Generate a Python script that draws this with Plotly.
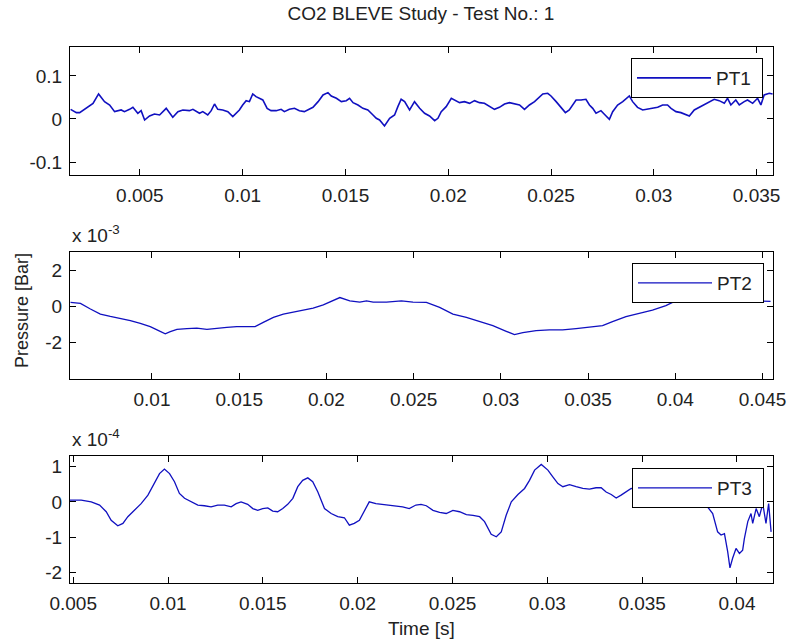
import plotly.graph_objects as go

# ---------------- data ----------------
# PT1: time [s] and pressure [Bar]
t1 = [0.00163, 0.00191, 0.00207, 0.00247, 0.00272, 0.00299, 0.00328, 0.00353, 0.00377, 0.00409,
      0.00425, 0.0045, 0.00466, 0.0049, 0.00506, 0.00523, 0.00547, 0.00571, 0.00596, 0.00628,
      0.00644, 0.0066, 0.00685, 0.00709, 0.00741, 0.00758, 0.0079, 0.00806, 0.0083, 0.00847,
      0.00863, 0.00879, 0.00903, 0.00928, 0.00952, 0.00968, 0.00984, 0.0100, 0.01017, 0.01033,
      0.01049, 0.01065, 0.01082, 0.01098, 0.01119, 0.01138, 0.01163, 0.01187, 0.01203, 0.01227,
      0.01252, 0.01276, 0.0130,
      0.01318, 0.01342, 0.01367, 0.01391, 0.01415, 0.01431, 0.01456, 0.0148, 0.01504, 0.0152,
      0.01537, 0.01561, 0.01585, 0.01609, 0.01634, 0.0165, 0.01666, 0.0169, 0.01715, 0.01739,
      0.01755, 0.01771, 0.01788, 0.01812, 0.01836, 0.01861, 0.01885, 0.01909, 0.01934, 0.0195,
      0.01966, 0.0199, 0.02015, 0.02031, 0.02055, 0.02079, 0.02104, 0.02128, 0.02152, 0.02176,
      0.02201, 0.02225, 0.02249, 0.02274, 0.02298, 0.02322, 0.02347, 0.02371, 0.02395, 0.0242,
      0.02444, 0.0246, 0.02484, 0.025, 0.02525, 0.02549, 0.0257, 0.02589, 0.02606, 0.02622,
      0.02646, 0.0267, 0.02687, 0.02703, 0.02719, 0.02743, 0.02768, 0.02784, 0.028, 0.02824,
      0.02849, 0.02868, 0.02881, 0.02897, 0.02921, 0.02946, 0.0297, 0.02994, 0.03019, 0.03043,
      0.03067, 0.03084, 0.03108, 0.03132, 0.03156, 0.03173, 0.03197, 0.03221, 0.03246, 0.0327,
      0.03294, 0.03318, 0.03343, 0.03359, 0.03375, 0.03399, 0.03416, 0.0344, 0.03456, 0.03481,
      0.03505, 0.03521, 0.03537, 0.03562, 0.03578]
p1 = [0.0224, 0.0147, 0.0147, 0.0286, 0.0363, 0.0581, 0.0402, 0.0325, 0.0170, 0.0209,
      0.0170, 0.0224, 0.0270, 0.0132, 0.0193, -0.0024, 0.0069, 0.0116, 0.0093, 0.0247,
      0.0132, 0.0038, 0.0170, 0.0209, 0.0193, 0.0224, 0.0132, 0.0170, 0.0093, 0.0193,
      0.0348, 0.0224, 0.0209, 0.0170, 0.0054, 0.0132, 0.0209, 0.0325, 0.0425, 0.0402,
      0.0581, 0.0519, 0.0480, 0.0441, 0.0247, 0.0193, 0.0193, 0.0224, 0.0170, 0.0224,
      0.0247, 0.0193, 0.0170,
      0.0209, 0.0270, 0.0402, 0.0557, 0.0612, 0.0534, 0.0480, 0.0402, 0.0425, 0.0480,
      0.0379, 0.0325, 0.0247, 0.0209, 0.0093, 0.0015, -0.0024, -0.0163, 0.0015, 0.0093,
      0.0286, 0.0457, 0.0402, 0.0209, 0.0402, 0.0247, 0.0132, 0.0069, -0.0039, 0.0015,
      0.0170, 0.0286, 0.0480, 0.0441, 0.0379, 0.0402, 0.0363, 0.0425, 0.0379, 0.0363,
      0.0302, 0.0224, 0.0270, 0.0348, 0.0379, 0.0348, 0.0325, 0.0224, 0.0325, 0.0402,
      0.0519, 0.0581, 0.0596, 0.0534, 0.0402, 0.0270, 0.0147, 0.0209, 0.0325, 0.0441,
      0.0441, 0.0457, 0.0325, 0.0247, 0.0132, 0.0193, 0.0069, -0.0008, 0.0170, 0.0325,
      0.0402, 0.0480, 0.0534, 0.0402, 0.0270, 0.0209, 0.0224, 0.0247, 0.0270, 0.0325,
      0.0325, 0.0247, 0.0170, 0.0147, 0.0093, 0.0069, 0.0209, 0.0270, 0.0348, 0.0402,
      0.0457, 0.0425, 0.0363, 0.0480, 0.0325, 0.0441, 0.0325, 0.0402, 0.0441, 0.0363,
      0.0480, 0.0325, 0.0557, 0.0596, 0.0581]

# PT2: time [s] and pressure in units of 1e-3 Bar
t2 = [0.00533, 0.0059, 0.00647, 0.00704, 0.00761, 0.00819, 0.00876, 0.00933, 0.0099, 0.01038,
      0.01076, 0.01105, 0.01143, 0.012, 0.01257, 0.01315, 0.01372, 0.01429, 0.01486, 0.01543,
      0.01591, 0.01638, 0.01696, 0.01753, 0.0181, 0.01867, 0.01924, 0.01982, 0.02039, 0.02077,
      0.02134, 0.02191, 0.0223, 0.02268, 0.02344,
      0.0243, 0.02496, 0.02573, 0.02649, 0.02725, 0.02802, 0.02878, 0.02954, 0.03031, 0.03078,
      0.03126, 0.03202, 0.03278, 0.03354, 0.03431, 0.03507, 0.03583, 0.0364, 0.03717, 0.03793,
      0.03869, 0.03946, 0.03993, 0.04079, 0.04269, 0.04461, 0.04546]
p2_e3 = [0.22, 0.17, -0.14, -0.42, -0.55, -0.66, -0.78, -0.93, -1.11, -1.33,
         -1.51, -1.39, -1.26, -1.22, -1.20, -1.26, -1.19, -1.15, -1.11, -1.11,
         -1.11, -0.88, -0.60, -0.42, -0.31, -0.20, -0.09, 0.09, 0.31, 0.49,
         0.31, 0.24, 0.31, 0.24, 0.24,
         0.31, 0.24, 0.22, -0.05, -0.42, -0.60, -0.82, -1.06, -1.37, -1.55,
         -1.44, -1.33, -1.29, -1.29, -1.22, -1.15, -1.06, -0.84, -0.56, -0.38,
         -0.20, 0.04, 0.26, 0.40, 0.46, 0.31, 0.28]

# PT3: time [s] and pressure in units of 1e-4 Bar
t3 = [0.00483, 0.00542, 0.00595, 0.00639, 0.00674, 0.007, 0.00735, 0.00762, 0.00788, 0.00823,
      0.00858, 0.00894, 0.00929, 0.00955, 0.00981, 0.01008, 0.01034, 0.0106, 0.01087, 0.01122,
      0.01157, 0.01192, 0.01227, 0.01262, 0.01297, 0.01333, 0.01359, 0.01385, 0.0142, 0.01447,
      0.01473, 0.01499, 0.01526, 0.01552, 0.01578, 0.01605, 0.01631, 0.01658, 0.01684, 0.0171,
      0.01737, 0.01763, 0.0179, 0.01825, 0.0186, 0.01895, 0.0193, 0.01956, 0.01982, 0.02009,
      0.02035, 0.02061, 0.02096, 0.02132, 0.02167, 0.02202, 0.02237, 0.02272, 0.02307, 0.02334,
      0.02362, 0.02397, 0.02432, 0.02467, 0.02502, 0.02537, 0.02573, 0.02608, 0.02643, 0.02669,
      0.02687, 0.02704, 0.02731, 0.02757, 0.02783, 0.0281, 0.02845, 0.0288, 0.02906, 0.02933,
      0.02968, 0.03003, 0.03029, 0.03056, 0.03082, 0.03117, 0.03152, 0.03187, 0.03222, 0.03257,
      0.03284, 0.0331, 0.03337, 0.03363, 0.03389, 0.03416, 0.03442, 0.03556, 0.03696, 0.03802,
      0.03837, 0.03872, 0.03898, 0.03916, 0.03934, 0.03951, 0.03963, 0.03977, 0.03995, 0.04013,
      0.0403, 0.04039, 0.04057, 0.04074, 0.04083, 0.04101, 0.04118, 0.04136, 0.04153, 0.04167,
      0.0418]
p3_e4 = [0.05, 0.05, 0.00, -0.09, -0.28, -0.52, -0.68, -0.61, -0.42, -0.24,
         -0.05, 0.19, 0.52, 0.80, 0.93, 0.80, 0.57, 0.24, 0.10, 0.00,
         -0.09, -0.11, -0.14, -0.09, -0.09, -0.14, -0.05, 0.00, -0.07, -0.19,
         -0.24, -0.19, -0.17, -0.26, -0.28, -0.19, -0.07, 0.10, 0.43, 0.61,
         0.68, 0.57, 0.28, -0.19, -0.33, -0.42, -0.45, -0.66, -0.61, -0.52,
         -0.28, 0.00, -0.05, -0.07, -0.09, -0.11, -0.14, -0.19, -0.09, -0.07,
         -0.11, -0.24, -0.30, -0.33, -0.24, -0.28, -0.36, -0.38, -0.42, -0.56,
         -0.75, -0.92, -0.99, -0.85, -0.38, 0.00, 0.21, 0.38, 0.61, 0.90,
         1.06, 0.90, 0.71, 0.52, 0.43, 0.49, 0.43, 0.38, 0.36, 0.40,
         0.40, 0.28, 0.21, 0.11, 0.19, 0.30, 0.38, 0.28, 0.19, 0.00,
         -0.09, -0.33, -0.85, -0.94, -0.90, -1.41, -1.87, -1.60, -1.32, -1.46,
         -1.37, -1.04, -0.56, -0.33, -0.61, -0.19, -0.42, -0.05, -0.61, -0.05,
         -0.85]

p2 = [v * 1e-3 for v in p2_e3]
p3 = [v * 1e-4 for v in p3_e4]

x1_ticks = [0.005, 0.01, 0.015, 0.02, 0.025, 0.03, 0.035]
x1_labels = ["0.005", "0.01", "0.015", "0.02", "0.025", "0.03", "0.035"]
x2_ticks = [0.01, 0.015, 0.02, 0.025, 0.03, 0.035, 0.04, 0.045]
x2_labels = ["0.01", "0.015", "0.02", "0.025", "0.03", "0.035", "0.04", "0.045"]
x3_ticks = [0.005, 0.01, 0.015, 0.02, 0.025, 0.03, 0.035, 0.04]
x3_labels = ["0.005", "0.01", "0.015", "0.02", "0.025", "0.03", "0.035", "0.04"]
y1_ticks = [-0.1, 0, 0.1]
y1_labels = ["-0.1", "0", "0.1"]
y2_ticks = [-2e-3, 0, 2e-3]
y2_labels = ["-2", "0", "2"]
y3_ticks = [-2e-4, -1e-4, 0, 1e-4]
y3_labels = ["-2", "-1", "0", "1"]

# ---------------- figure ----------------
W, H = 789, 641
FONT = "Liberation Sans, Arial, sans-serif"
TXT = "#222222"
LINE = "#1010c0"
FS = 19
PAD = "\u00a0"

fig = go.Figure()
fig.add_trace(go.Scatter(x=t1, y=p1, mode="lines", name="PT1" + PAD, line=dict(color=LINE, width=1.6),
                         xaxis="x", yaxis="y", legend="legend"))
fig.add_trace(go.Scatter(x=t2, y=p2, mode="lines", name="PT2" + PAD, line=dict(color=LINE, width=1.3),
                         xaxis="x2", yaxis="y2", legend="legend2"))
fig.add_trace(go.Scatter(x=t3, y=p3, mode="lines", name="PT3" + PAD, line=dict(color=LINE, width=1.3),
                         xaxis="x3", yaxis="y3", legend="legend3"))

xdom = [70 / W, 773 / W]
def ydom(top, bottom):
    return [1 - bottom / H, 1 - top / H]

def axis_style(**kw):
    d = dict(showline=True, linecolor="black", linewidth=1, mirror="ticks",
             ticks="inside", ticklen=6, tickwidth=1, tickcolor="black",
             showgrid=False, zeroline=False, automargin=False, ticklabelstandoff=3,
             tickfont=dict(family=FONT, size=FS, color=TXT), tickmode="array")
    d.update(kw)
    return d

legend_style = dict(bgcolor="white", bordercolor="black", borderwidth=1,
                    font=dict(family=FONT, size=FS, color=TXT),
                    xanchor="left", yanchor="top", itemwidth=74)

fig.update_layout(
    width=W, height=H,
    margin=dict(l=0, r=0, t=0, b=0, autoexpand=False),
    paper_bgcolor="white", plot_bgcolor="white",
    font=dict(family=FONT, size=FS, color=TXT),
    title=dict(text="CO2 BLEVE Study - Test No.: 1", x=421 / W, xanchor="center",
               y=1 - 13 / H, yanchor="middle", automargin=False,
               font=dict(family=FONT, size=FS, color=TXT)),
    xaxis=axis_style(domain=xdom, anchor="y", range=[0.0016, 0.0358],
                     tickvals=x1_ticks, ticktext=x1_labels),
    yaxis=axis_style(domain=ydom(47, 175), anchor="x", range=[-0.13, 0.167],
                     tickvals=y1_ticks, ticktext=y1_labels),
    xaxis2=axis_style(domain=xdom, anchor="y2", range=[0.0053, 0.0456],
                      tickvals=x2_ticks, ticktext=x2_labels),
    yaxis2=axis_style(domain=ydom(252, 379), anchor="x2", range=[-4e-3, 3e-3],
                      tickvals=y2_ticks, ticktext=y2_labels),
    xaxis3=axis_style(domain=xdom, anchor="y3", range=[0.00483, 0.0419],
                      tickvals=x3_ticks, ticktext=x3_labels),
    yaxis3=axis_style(domain=ydom(456, 583), anchor="x3", range=[-2.3e-4, 1.3e-4],
                      tickvals=y3_ticks, ticktext=y3_labels),
    legend=dict(legend_style, x=631 / W, y=1 - 58 / H),
    legend2=dict(legend_style, x=632 / W, y=1 - 263 / H),
    legend3=dict(legend_style, x=632 / W, y=1 - 468 / H),
    showlegend=True,
)

ann_font = dict(family=FONT, size=FS, color=TXT)
fig.add_annotation(text="x 10<sup>-3</sup>", xref="paper", yref="paper",
                   x=70 / W, y=1 - 248 / H, xanchor="left", yanchor="bottom",
                   showarrow=False, font=ann_font)
fig.add_annotation(text="x 10<sup>-4</sup>", xref="paper", yref="paper",
                   x=70 / W, y=1 - 452 / H, xanchor="left", yanchor="bottom",
                   showarrow=False, font=ann_font)
fig.add_annotation(text="Pressure [Bar]", xref="paper", yref="paper",
                   x=22 / W, y=1 - 311 / H, xanchor="center", yanchor="middle",
                   textangle=-90, showarrow=False, font=dict(family=FONT, size=18, color=TXT))
fig.add_annotation(text="Time [s]", xref="paper", yref="paper",
                   x=421 / W, y=1 - 628 / H, xanchor="center", yanchor="middle",
                   showarrow=False, font=ann_font)

fig.write_html("out.html")
